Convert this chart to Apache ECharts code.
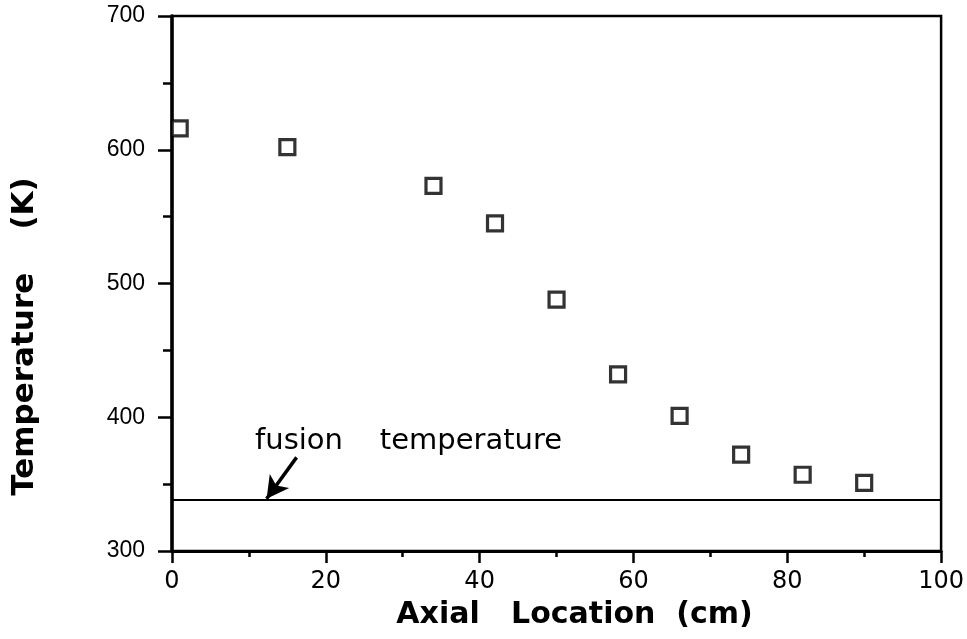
<!DOCTYPE html>
<html><head><meta charset="utf-8">
<script src="https://cdn.jsdelivr.net/npm/echarts@6/dist/echarts.min.js"></script>
<style>html,body{margin:0;padding:0;background:#fff}#c{width:967px;height:639px}</style>
</head><body><div id="c"></div>
<script>
const axialLocation = [1, 15, 34, 42, 50, 58, 66, 74, 82, 90];
const temperature = [616, 602, 573, 545, 488, 432, 401, 372, 357, 351];
const fusionTemperature = 338;
const annotationText = 'fusion    temperature';
const xTitle = 'Axial   Location  (cm)';
const yTitle = 'Temperature    (K)';

const chart = echarts.init(document.getElementById('c'));
const arial = '"Liberation Sans", Arial, sans-serif';
const dejavu = '"DejaVu Sans", sans-serif';
chart.setOption({
  animation: false,
  backgroundColor: '#fff',
  grid: { left: 172, right: 25, top: 16, bottom: 88, show: true, borderColor: '#000', borderWidth: 2.5, backgroundColor: 'transparent' },
  xAxis: {
    type: 'value', min: 0, max: 100, interval: 20,
    name: xTitle, nameLocation: 'middle', nameGap: 49,
    nameTextStyle: { fontFamily: dejavu, fontWeight: 'bold', fontSize: 30, color: '#000', padding: [0, 0, 0, 36] },
    axisLine: { show: true, lineStyle: { color: '#000', width: 3 } },
    axisTick: { show: true, length: 12, lineStyle: { color: '#000', width: 2.5 } },
    minorTick: { show: true, splitNumber: 2, length: 6, lineStyle: { color: '#000', width: 2.5 } },
    axisLabel: { fontFamily: dejavu, fontSize: 24, color: '#000', margin: 19 },
    splitLine: { show: false }
  },
  yAxis: {
    type: 'value', min: 300, max: 700, interval: 100,
    name: yTitle, nameLocation: 'middle', nameGap: 132, nameRotate: 90,
    nameTextStyle: { fontFamily: dejavu, fontWeight: 'bold', fontSize: 31, color: '#000', padding: [0, 106, 0, 0] },
    axisLine: { show: true, lineStyle: { color: '#000', width: 3.5 } },
    axisTick: { show: true, length: 14, lineStyle: { color: '#000', width: 2.5 } },
    minorTick: { show: true, splitNumber: 2, length: 9, lineStyle: { color: '#000', width: 2.5 } },
    axisLabel: { fontFamily: arial, fontSize: 23, color: '#000', margin: 27 },
    splitLine: { show: false }
  },
  series: [{
    type: 'scatter',
    data: axialLocation.map((x, i) => [x, temperature[i]]),
    symbol: 'rect', symbolSize: 15,
    itemStyle: { color: '#fff', borderColor: '#000', borderWidth: 3.2 },
    markLine: {
      silent: true, animation: false,
      label: { show: false },
      data: [
        [{ xAxis: 0, yAxis: fusionTemperature, symbol: 'none', lineStyle: { color: '#000', width: 2, type: 'solid' } },
         { xAxis: 100, yAxis: fusionTemperature, symbol: 'none' }],
        [{ coord: [16.2, 370], symbol: 'none', lineStyle: { color: '#000', width: 3.5, type: 'solid' } },
         { coord: [12.3, 339], symbol: 'arrow', symbolSize: [18, 22] }]
      ]
    },
    markPoint: {
      silent: true, animation: false,
      symbol: 'circle', symbolSize: 0,
      data: [{
        coord: [10.8, 382],
        label: { show: true, formatter: annotationText, position: 'right', distance: 0, fontFamily: dejavu, fontSize: 29, color: '#000' }
      }]
    }
  }]
});
</script></body></html>
